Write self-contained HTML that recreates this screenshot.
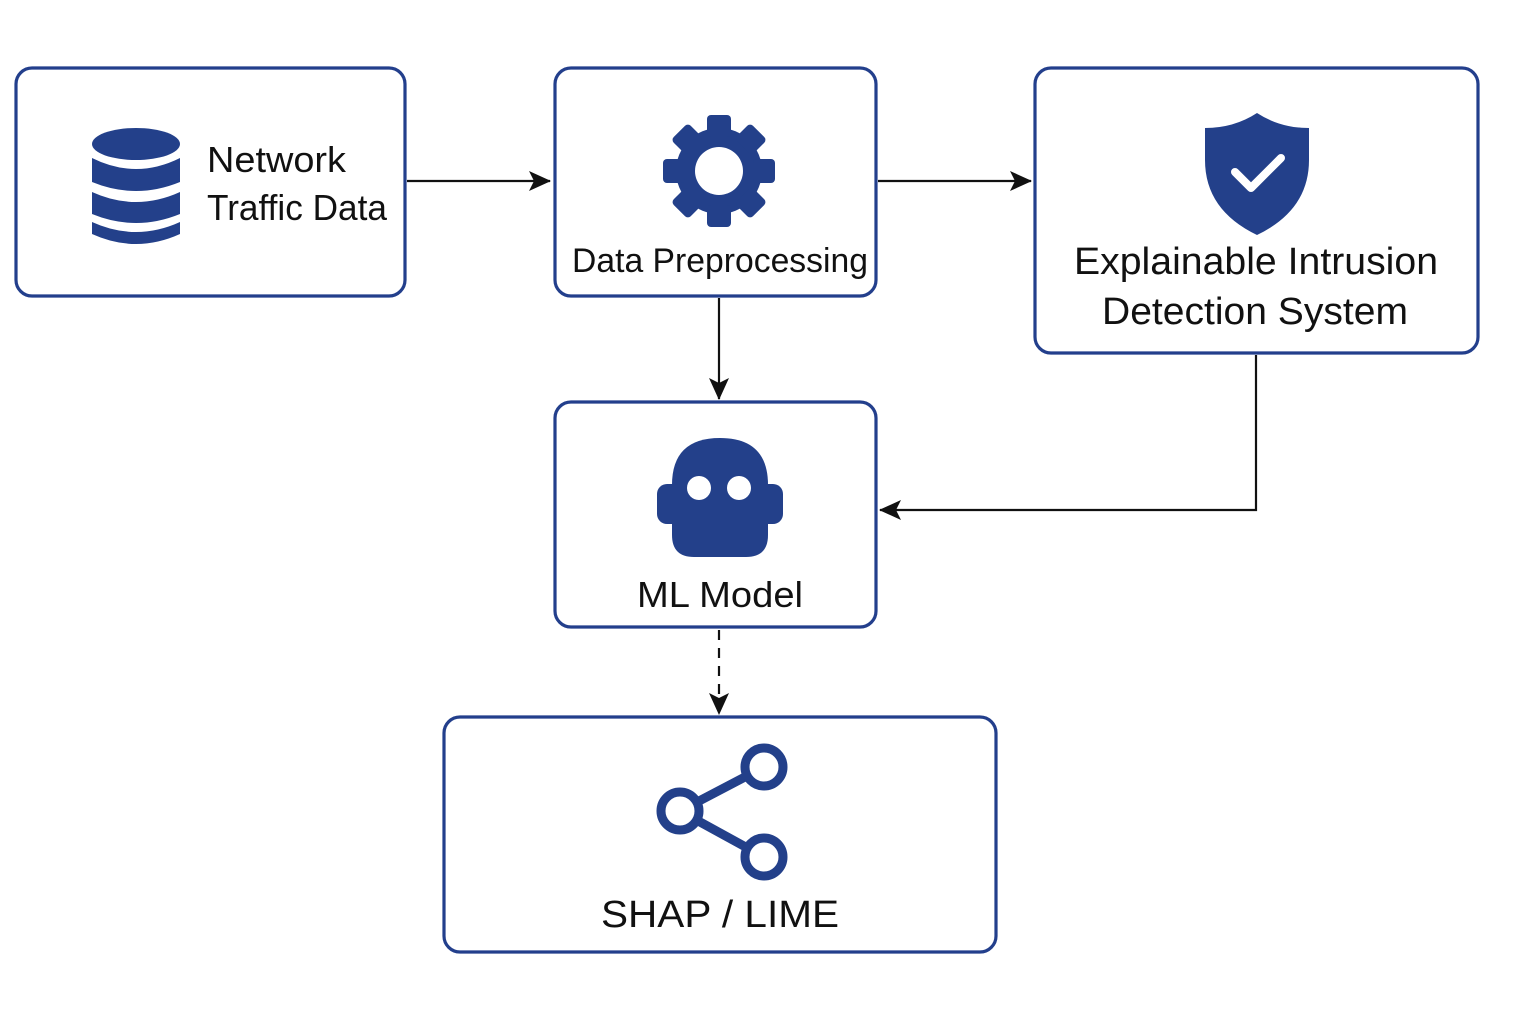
<!DOCTYPE html>
<html><head><meta charset="utf-8"><style>
html,body{margin:0;padding:0;background:#fff;}
svg{display:block;}
text{font-family:"Liberation Sans",sans-serif;fill:#111;}
</style></head><body>
<svg width="1536" height="1024" viewBox="0 0 1536 1024" xmlns="http://www.w3.org/2000/svg">
<defs>
<marker id="ah" markerWidth="22" markerHeight="20" refX="21" refY="10" orient="auto" markerUnits="userSpaceOnUse" viewBox="0 0 22 20">
<path d="M0,0 L22,10 L0,20 L5,10 Z" fill="#111"/>
</marker>
</defs>
<g fill="none" stroke="#233f8c" stroke-width="3.2">
<rect x="16" y="68" width="389" height="228" rx="16"/>
<rect x="555" y="68" width="321" height="228" rx="16"/>
<rect x="1035" y="68" width="443" height="285" rx="16"/>
<rect x="555" y="402" width="321" height="225" rx="16"/>
<rect x="444" y="717" width="552" height="235" rx="16"/>
</g>
<g stroke="#111" stroke-width="2.2" fill="none">
<line x1="407" y1="181" x2="550" y2="181" marker-end="url(#ah)"/>
<line x1="878" y1="181" x2="1031" y2="181" marker-end="url(#ah)"/>
<line x1="719" y1="298" x2="719" y2="399" marker-end="url(#ah)"/>
<polyline points="1256,355 1256,510 880,510" marker-end="url(#ah)"/>
<line x1="719" y1="630" x2="719" y2="714" stroke-dasharray="10,8" marker-end="url(#ah)"/>
</g>
<g fill="#23408a">
<ellipse cx="136" cy="144" rx="44" ry="16"/>
<path d="M92,158 Q136,180 180,158 L180,182 Q136,200 92,182 Z"/>
<path d="M92,192 Q136,212 180,192 L180,214 Q136,232 92,214 Z"/>
<path d="M92,222 Q136,242 180,222 L180,234 Q136,254 92,234 Z"/>
</g>
<text x="207" y="172" font-size="36" textLength="139" lengthAdjust="spacingAndGlyphs">Network</text>
<text x="207" y="220" font-size="36" textLength="180" lengthAdjust="spacingAndGlyphs">Traffic Data</text>
<g fill="#23408a" transform="translate(719,171)">
<circle r="43"/>
<rect x="-12" y="-56" width="24" height="22" rx="4"/>
<rect x="-12" y="-56" width="24" height="22" rx="4" transform="rotate(45)"/>
<rect x="-12" y="-56" width="24" height="22" rx="4" transform="rotate(90)"/>
<rect x="-12" y="-56" width="24" height="22" rx="4" transform="rotate(135)"/>
<rect x="-12" y="-56" width="24" height="22" rx="4" transform="rotate(180)"/>
<rect x="-12" y="-56" width="24" height="22" rx="4" transform="rotate(225)"/>
<rect x="-12" y="-56" width="24" height="22" rx="4" transform="rotate(270)"/>
<rect x="-12" y="-56" width="24" height="22" rx="4" transform="rotate(315)"/>
<circle r="24" fill="#fff"/>
</g>
<text x="720" y="272" font-size="34" text-anchor="middle" textLength="296" lengthAdjust="spacingAndGlyphs">Data Preprocessing</text>
<path d="M1257,113 Q1280,128 1309,128 L1309,160 Q1309,210 1257,235 Q1205,210 1205,160 L1205,128 Q1234,128 1257,113 Z" fill="#23408a"/>
<polyline points="1235,172 1251,188 1281,158" fill="none" stroke="#fff" stroke-width="8" stroke-linecap="round" stroke-linejoin="round"/>
<text x="1256" y="274" font-size="38" text-anchor="middle" textLength="364" lengthAdjust="spacingAndGlyphs">Explainable Intrusion</text>
<text x="1255" y="324" font-size="38" text-anchor="middle" textLength="306" lengthAdjust="spacingAndGlyphs">Detection System</text>
<g fill="#23408a">
<rect x="657" y="484" width="126" height="40" rx="10"/>
<path d="M672,485 Q672,438 720,438 Q768,438 768,485 L768,535 Q768,557 746,557 L694,557 Q672,557 672,535 Z"/>
<circle cx="699" cy="488" r="12" fill="#fff"/>
<circle cx="739" cy="488" r="12" fill="#fff"/>
</g>
<text x="720" y="607" font-size="36" text-anchor="middle" textLength="166" lengthAdjust="spacingAndGlyphs">ML Model</text>
<g stroke="#23408a" stroke-width="9" fill="none">
<line x1="680" y1="811" x2="764" y2="767"/>
<line x1="680" y1="811" x2="764" y2="857"/>
<circle cx="764" cy="767" r="19" fill="#fff"/>
<circle cx="680" cy="811" r="19" fill="#fff"/>
<circle cx="764" cy="857" r="19" fill="#fff"/>
</g>
<text x="720" y="927" font-size="38" text-anchor="middle" textLength="238" lengthAdjust="spacingAndGlyphs">SHAP / LIME</text>
</svg>
</body></html>
